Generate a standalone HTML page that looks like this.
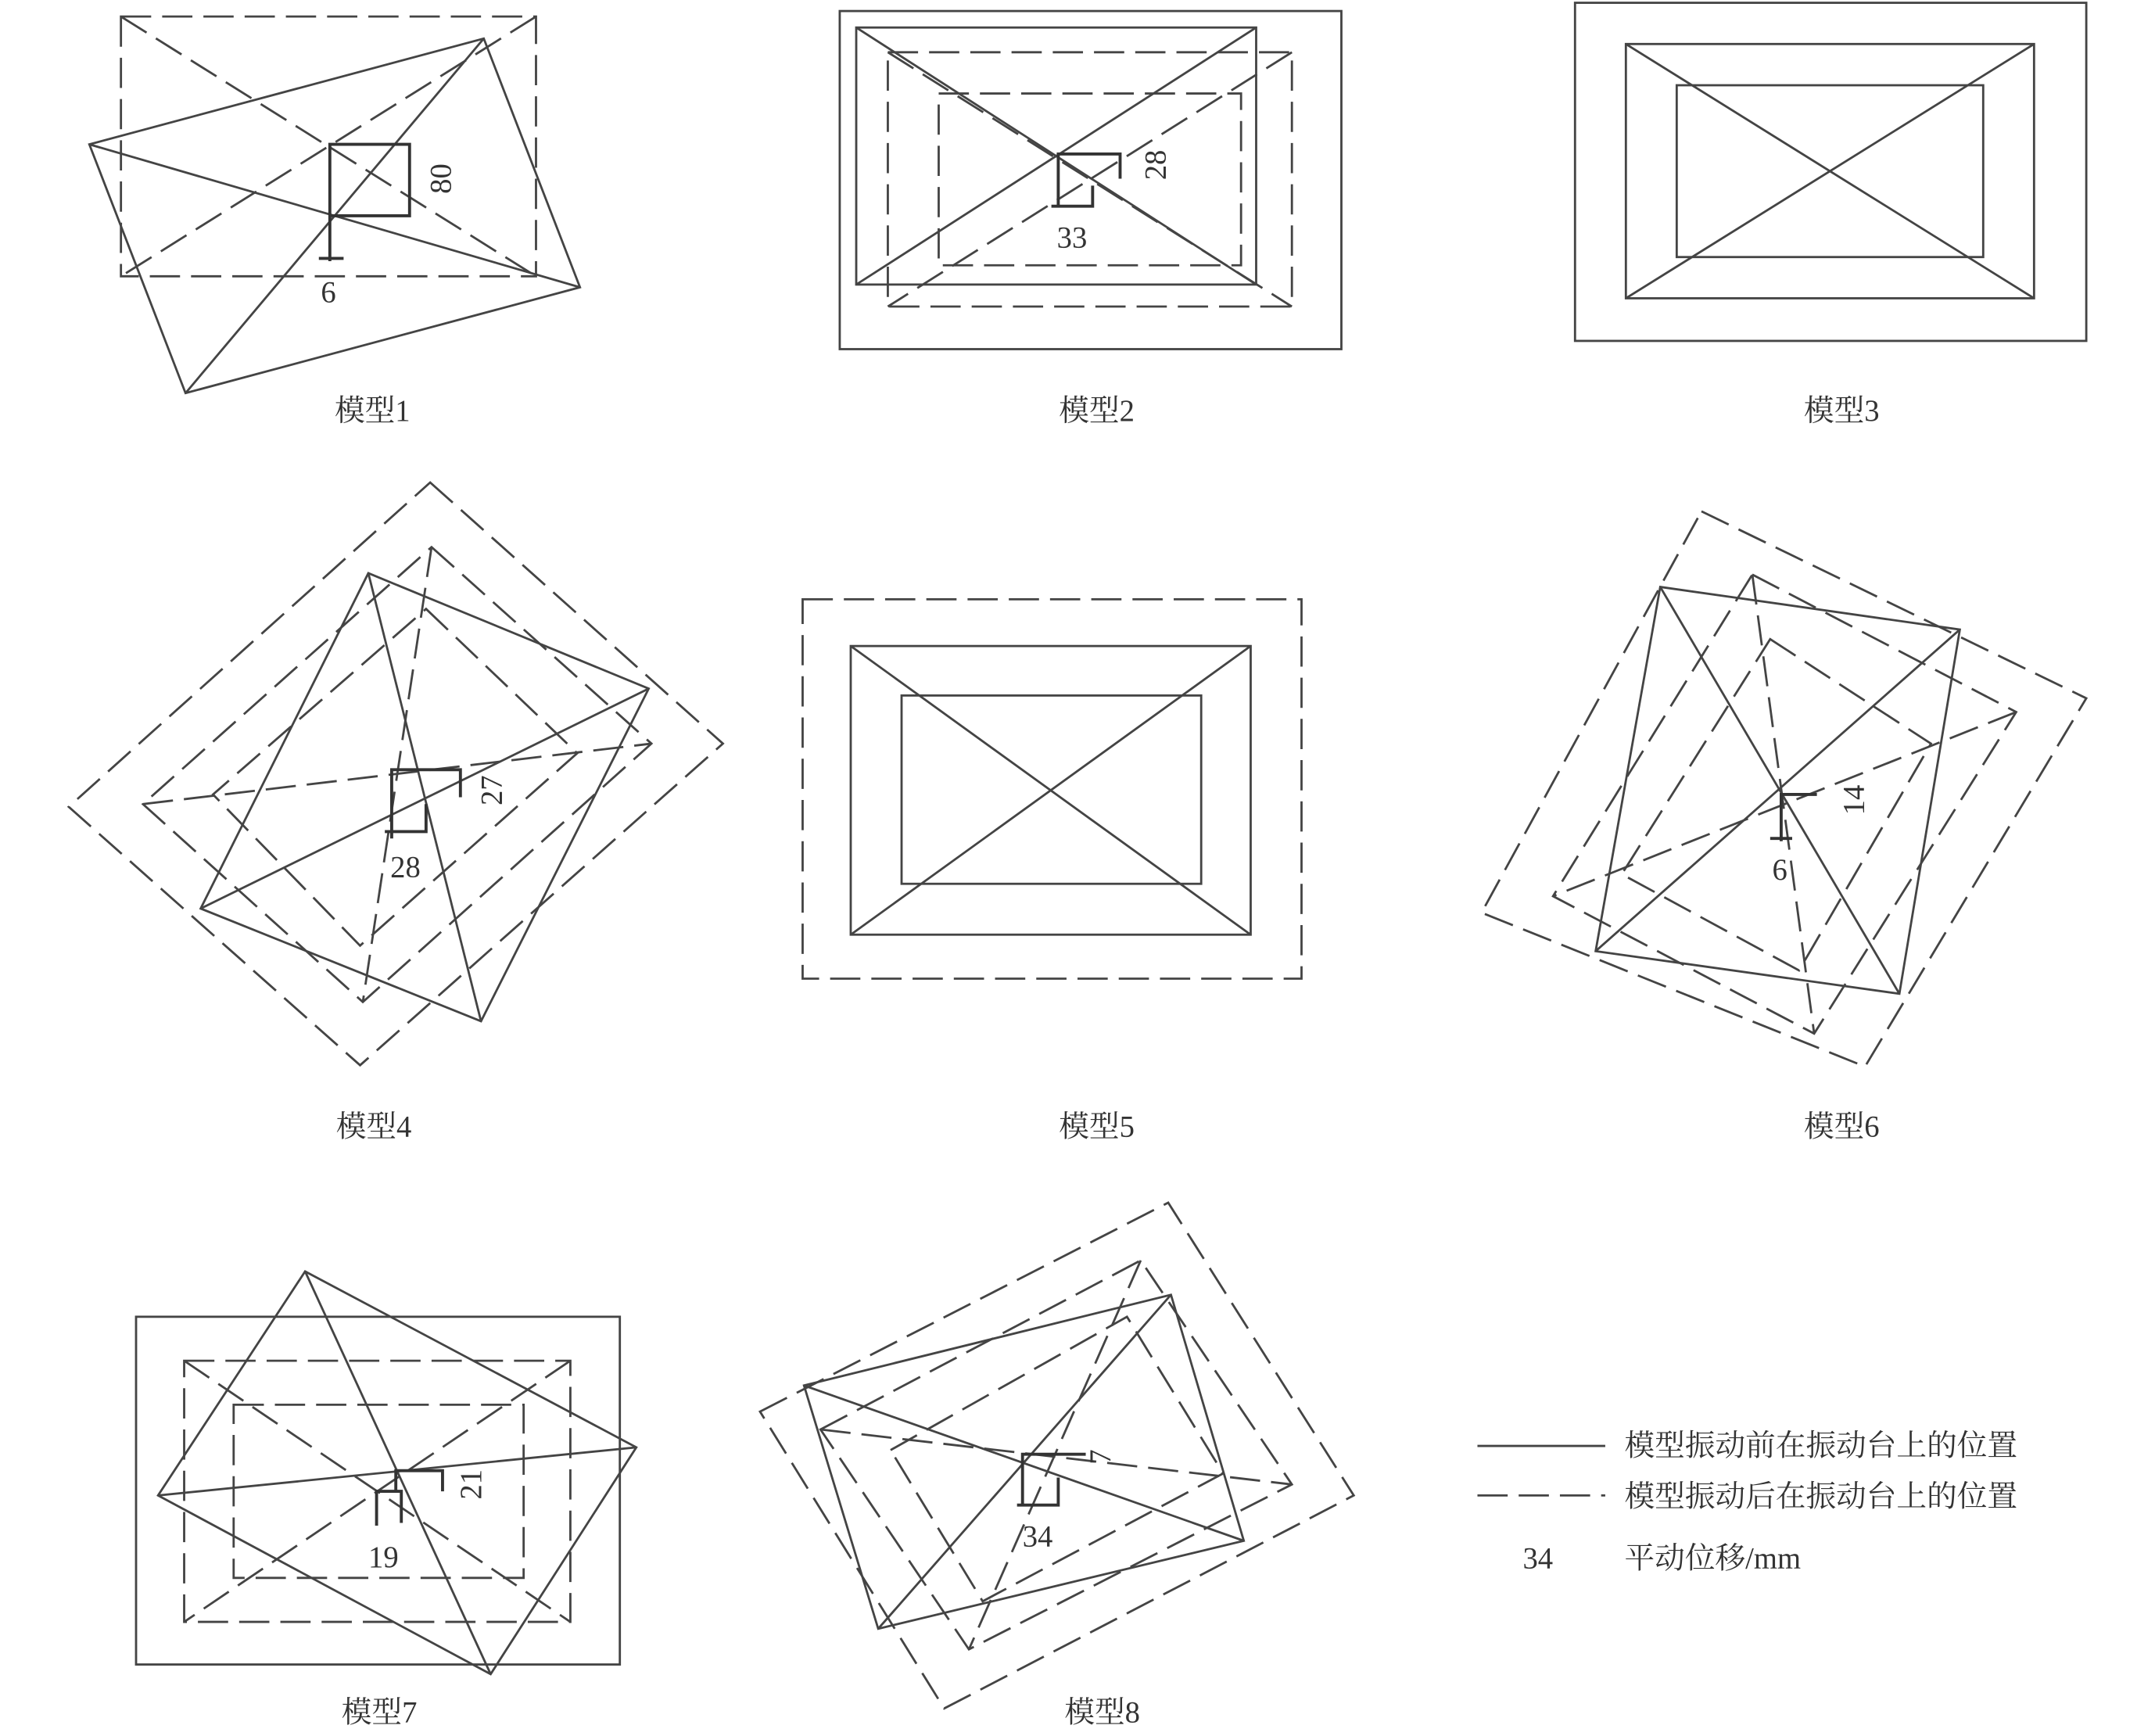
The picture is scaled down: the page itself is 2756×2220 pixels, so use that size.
<!DOCTYPE html>
<html><head><meta charset="utf-8"><style>
html,body{margin:0;padding:0;background:#fff;}
svg{display:block;}
text{font-family:"Liberation Serif","Noto Serif CJK SC",serif;fill:#333;font-size:22px;}
.s{fill:none;stroke:#444;stroke-width:1.6;}
.d{fill:none;stroke:#444;stroke-width:1.6;stroke-dasharray:22,8;}
.m{fill:none;stroke:#333;stroke-width:2.2;}
</style></head><body>
<svg width="2756" height="2220" viewBox="0 0 1568 1263" xmlns="http://www.w3.org/2000/svg">
<!-- Model 1 -->
<rect class="d" x="88" y="12" width="302" height="189"/>
<line class="d" x1="88" y1="12" x2="390" y2="201"/>
<line class="d" x1="390" y1="12" x2="88" y2="201"/>
<polygon class="s" points="65,105 352,28 422,209 135,286"/>
<line class="s" x1="65" y1="105" x2="422" y2="209"/>
<line class="s" x1="352" y1="28" x2="135" y2="286"/>
<polyline class="m" points="240,190 240,105 298,105 298,157 240,157"/>
<line class="m" x1="232" y1="188" x2="250" y2="188"/>
<text x="239" y="220" text-anchor="middle">6</text>
<text transform="translate(328,130) rotate(-90)" text-anchor="middle">80</text>
<text x="271" y="306" text-anchor="middle">模型1</text>

<!-- Model 2 -->
<rect class="s" x="611" y="8" width="365" height="246"/>
<rect class="s" x="623" y="20" width="291" height="187"/>
<rect class="d" x="646" y="38" width="294" height="185"/>
<rect class="d" x="683" y="68" width="220" height="125"/>
<line class="s" x1="623" y1="20" x2="914" y2="207"/>
<line class="s" x1="914" y1="20" x2="623" y2="207"/>
<line class="d" x1="646" y1="38" x2="940" y2="223"/>
<line class="d" x1="940" y1="38" x2="646" y2="223"/>
<polyline class="m" points="770,150 770,112 815,112 815,130"/>
<polyline class="m" points="765,150 795,150 795,135"/>
<text transform="translate(848,120) rotate(-90)" text-anchor="middle">28</text>
<text x="780" y="180" text-anchor="middle">33</text>
<text x="798" y="306" text-anchor="middle">模型2</text>

<!-- Model 3 -->
<rect class="s" x="1146" y="2" width="372" height="246"/>
<rect class="s" x="1183" y="32" width="297" height="185"/>
<rect class="s" x="1220" y="62" width="223" height="125"/>
<line class="s" x1="1183" y1="32" x2="1480" y2="217"/>
<line class="s" x1="1480" y1="32" x2="1183" y2="217"/>
<text x="1340" y="306" text-anchor="middle">模型3</text>

<!-- Model 4 -->
<polygon class="d" points="313,351 526,541 262,775 50,587"/>
<polygon class="d" points="314,398 474,541 264,729 104,585"/>
<polygon class="d" points="310,443 420,548 262,688 155,578"/>
<line class="d" x1="314" y1="398" x2="264" y2="729"/>
<line class="d" x1="104" y1="585" x2="474" y2="541"/>
<polygon class="s" points="268,417 472,501 350,743 146,661"/>
<line class="s" x1="268" y1="417" x2="350" y2="743"/>
<line class="s" x1="472" y1="501" x2="146" y2="661"/>
<polyline class="m" points="285,610 285,560 335,560 335,580"/>
<polyline class="m" points="280,605 310,605 310,585"/>
<text transform="translate(365,575) rotate(-90)" text-anchor="middle">27</text>
<text x="295" y="638" text-anchor="middle">28</text>
<text x="272" y="827" text-anchor="middle">模型4</text>

<!-- Model 5 -->
<rect class="d" x="584" y="436" width="363" height="276"/>
<rect class="s" x="619" y="470" width="291" height="210"/>
<rect class="s" x="656" y="506" width="218" height="137"/>
<line class="s" x1="619" y1="470" x2="910" y2="680"/>
<line class="s" x1="910" y1="470" x2="619" y2="680"/>
<text x="798" y="827" text-anchor="middle">模型5</text>

<!-- Model 6 -->
<polygon class="d" points="1238,372 1518,508 1357,776 1078,664"/>
<polygon class="d" points="1275,418 1467,518 1320,752 1130,652"/>
<polygon class="d" points="1288,465 1405,541 1309,706 1180,636"/>
<line class="d" x1="1275" y1="418" x2="1320" y2="752"/>
<line class="d" x1="1467" y1="518" x2="1130" y2="652"/>
<polygon class="s" points="1208,427 1426,458 1382,723 1161,692"/>
<line class="s" x1="1208" y1="427" x2="1382" y2="723"/>
<line class="s" x1="1426" y1="458" x2="1161" y2="692"/>
<polyline class="m" points="1296,612 1296,578 1322,578"/>
<line class="m" x1="1288" y1="610" x2="1304" y2="610"/>
<text transform="translate(1356,582) rotate(-90)" text-anchor="middle">14</text>
<text x="1295" y="640" text-anchor="middle">6</text>
<text x="1340" y="827" text-anchor="middle">模型6</text>

<!-- Model 7 -->
<rect class="s" x="99" y="958" width="352" height="253"/>
<rect class="d" x="134" y="990" width="281" height="190"/>
<rect class="d" x="170" y="1022" width="211" height="126"/>
<line class="d" x1="134" y1="990" x2="415" y2="1180"/>
<line class="d" x1="415" y1="990" x2="134" y2="1180"/>
<polygon class="s" points="222,925 463,1053 357,1218 115,1088"/>
<line class="s" x1="222" y1="925" x2="357" y2="1218"/>
<line class="s" x1="463" y1="1053" x2="115" y2="1088"/>
<polyline class="m" points="288,1085 288,1070 322,1070 322,1085"/>
<polyline class="m" points="274,1110 274,1085 292,1085 292,1108"/>
<text transform="translate(350,1080) rotate(-90)" text-anchor="middle">21</text>
<text x="279" y="1140" text-anchor="middle">19</text>
<text x="276" y="1253" text-anchor="middle">模型7</text>

<!-- Model 8 -->
<polygon class="d" points="553,1027 850,875 985,1088 687,1243"/>
<polygon class="d" points="597,1040 830,917 940,1080 705,1200"/>
<polygon class="d" points="648,1055 820,958 890,1072 715,1165"/>
<line class="d" x1="597" y1="1040" x2="940" y2="1080"/>
<line class="d" x1="830" y1="917" x2="705" y2="1200"/>
<polygon class="s" points="585,1008 852,942 905,1121 639,1185"/>
<line class="s" x1="585" y1="1008" x2="905" y2="1121"/>
<line class="s" x1="852" y1="942" x2="639" y2="1185"/>
<polyline class="m" points="744,1095 744,1058 790,1058"/>
<polyline class="m" points="740,1095 770,1095 770,1075"/>
<text transform="translate(808,1060) rotate(-90)" text-anchor="middle">7</text>
<text x="755" y="1125" text-anchor="middle">34</text>
<text x="802" y="1253" text-anchor="middle">模型8</text>

<!-- Legend -->
<line class="s" x1="1075" y1="1052" x2="1168" y2="1052"/>
<line class="d" x1="1075" y1="1088" x2="1168" y2="1088"/>
<text x="1182" y="1059">模型振动前在振动台上的位置</text>
<text x="1182" y="1096">模型振动后在振动台上的位置</text>
<text x="1108" y="1141">34</text>
<text x="1182" y="1141">平动位移/mm</text>
</svg>
</body></html>
